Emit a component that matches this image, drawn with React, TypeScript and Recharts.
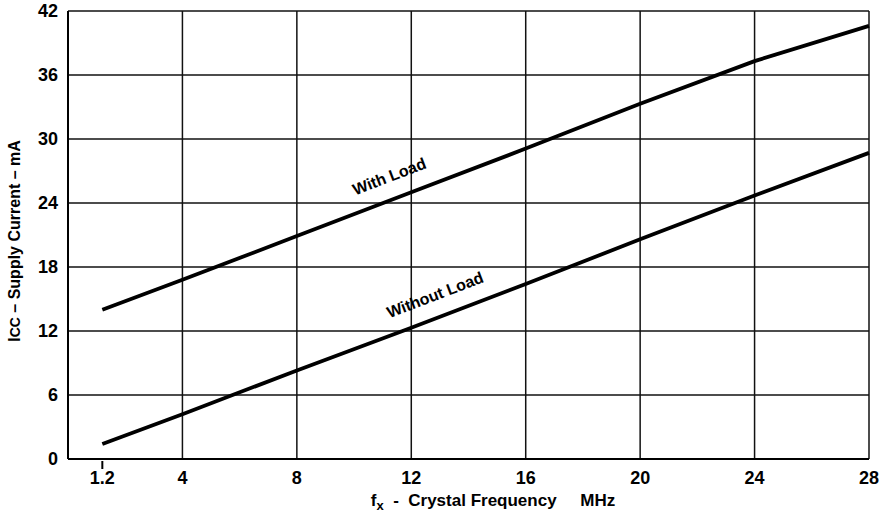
import { LineChart, Line, XAxis, YAxis, CartesianGrid, ReferenceDot } from 'recharts'

const freq = [1.2, 4, 8, 12, 16, 20, 24, 28]
const withLoad = [14.0, 16.8, 20.9, 25.0, 29.1, 33.3, 37.3, 40.6]
const withoutLoad = [1.4, 4.2, 8.3, 12.3, 16.4, 20.6, 24.7, 28.7]

const xTicks = [1.2, 4, 8, 12, 16, 20, 24, 28]
const yTicks = [0, 6, 12, 18, 24, 30, 36, 42]
const gridX = [4, 8, 12, 16, 20, 24, 28]
const gridY = [6, 12, 18, 24, 30, 36, 42]

const data = freq.map((f, i) => ({ f, withLoad: withLoad[i], withoutLoad: withoutLoad[i] }))

const FONT = '"Liberation Sans", Arial, sans-serif'

const XTick = (props: any) => {
  const { x, y, payload } = props
  return (
    <g>
      {payload.value === 1.2 && <line x1={x} y1={y - 6} x2={x} y2={y + 2} stroke="#000" strokeWidth={2} />}
      <text x={x} y={y + 17} textAnchor="middle" fontFamily={FONT} fontWeight="bold" fontSize={18} fill="#000">
        {payload.value}
      </text>
    </g>
  )
}

const YTick = (props: any) => {
  const { x, y, payload } = props
  return (
    <text x={x - 2} y={y + 6} textAnchor="end" fontFamily={FONT} fontWeight="bold" fontSize={18} fill="#000">
      {payload.value}
    </text>
  )
}

const lineLabel = (text: string) => (p: any) => (
  <text
    x={p.cx}
    y={p.cy}
    transform={`rotate(-21 ${p.cx} ${p.cy})`}
    textAnchor="middle"
    fontFamily={FONT}
    fontWeight="bold"
    fontSize={16}
    fill="#000"
  >
    {text}
  </text>
)

export default function App() {
  return (
    <div style={{ position: 'absolute', left: 0, top: 0, width: 888, height: 516, background: '#fff' }}>
      <LineChart width={888} height={516} data={data} margin={{ top: 11, right: 19, bottom: 0, left: 0 }}>
        <CartesianGrid
          stroke="#111"
          strokeWidth={1.5}
          horizontalValues={gridY}
          verticalValues={gridX}
        />
        <XAxis
          dataKey="f"
          type="number"
          domain={[0, 28]}
          ticks={xTicks}
          height={57}
          axisLine={{ stroke: '#000', strokeWidth: 2 }}
          tickLine={false}
          tick={<XTick />}
          interval={0}
        />
        <YAxis
          type="number"
          domain={[0, 42]}
          ticks={yTicks}
          width={68}
          axisLine={{ stroke: '#000', strokeWidth: 2 }}
          tickLine={false}
          tick={<YTick />}
          interval={0}
        />
        <Line type="linear" dataKey="withLoad" stroke="#000" strokeWidth={3.8} dot={false} isAnimationActive={false} />
        <Line type="linear" dataKey="withoutLoad" stroke="#000" strokeWidth={3.8} dot={false} isAnimationActive={false} />
        <ReferenceDot x={11.3} y={26.0} r={0} shape={lineLabel('With Load')} />
        <ReferenceDot x={12.9} y={14.9} r={0} shape={lineLabel('Without Load')} />
        <text
          transform="translate(20 241) rotate(-90)"
          textAnchor="middle"
          fontFamily={FONT}
          fontWeight="bold"
          fontSize={16}
          fill="#000"
        >
          I<tspan fontSize={14}>CC</tspan> – Supply Current – mA
        </text>
        <text x={493} y={506} textAnchor="middle" fontFamily={FONT} fontWeight="bold" fontSize={17} fill="#000" xmlSpace="preserve">
          f<tspan fontSize={13} dy={4}>x</tspan>
          <tspan dy={-4}>  -  Crystal Frequency     MHz</tspan>
        </text>
      </LineChart>
    </div>
  )
}
